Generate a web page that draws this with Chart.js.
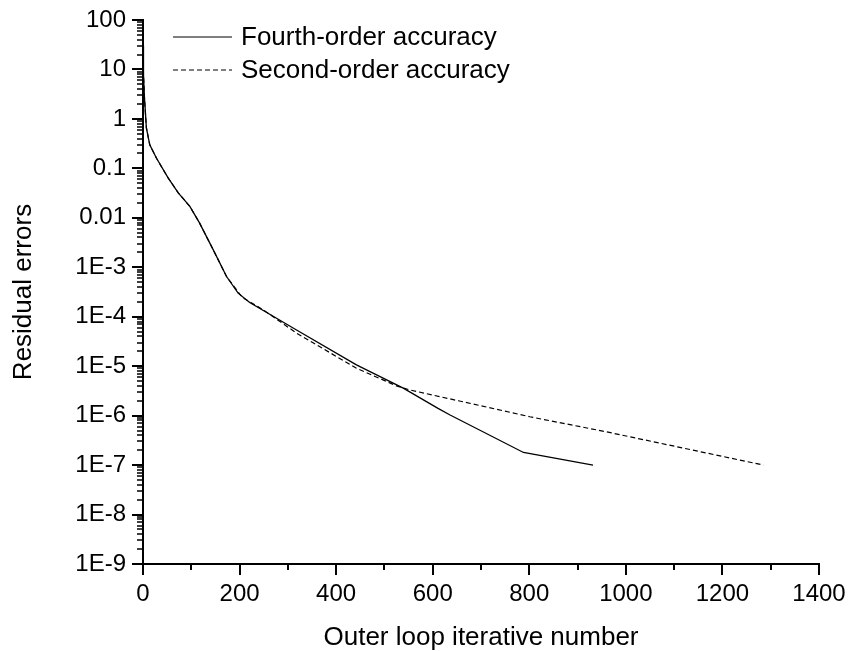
<!DOCTYPE html>
<html>
<head>
<meta charset="utf-8">
<script src="https://cdn.jsdelivr.net/npm/chart.js@4"></script>
<style>
  body { margin: 0; background: #fff; }
  canvas { display: block; }
</style>
</head>
<body>
<canvas id="myChart" width="850" height="651"></canvas>
<script>
// iteration numbers and residuals
const iterFourth = [0, 1, 3, 7, 14, 28, 52, 73, 97, 117, 145, 173, 197, 221, 318, 442, 539, 611, 636, 788, 932];
const resFourth = [30, 8, 2.7, 0.66, 0.3, 0.16, 0.064, 0.032, 0.017, 0.0079, 0.0023, 6.5e-4, 3.0e-4, 1.94e-4,
  5.4e-5, 1.06e-5, 3.6e-6, 1.4e-6, 1.03e-6, 1.8e-7, 1.0e-7];

const iterSecond = [0, 1, 3, 7, 14, 28, 52, 73, 97, 117, 145, 173, 200, 207, 249, 318, 442, 525, 553, 653, 801, 960, 1285];
const resSecond = [30, 8, 2.7, 0.66, 0.3, 0.16, 0.064, 0.032, 0.017, 0.0079, 0.0023, 6.5e-4, 2.9e-4, 2.4e-4,
  1.38e-4, 4.66e-5, 9.1e-6, 4.0e-6, 3.3e-6, 2.0e-6, 9.5e-7, 4.7e-7, 1.0e-7];

const seriesLabels = ['Fourth-order accuracy', 'Second-order accuracy'];

const xTicks = [0, 200, 400, 600, 800, 1000, 1200, 1400];
const yTickValues = [1e-9, 1e-8, 1e-7, 1e-6, 1e-5, 1e-4, 1e-3, 0.01, 0.1, 1, 10, 100];
const yTickLabels = ['1E-9', '1E-8', '1E-7', '1E-6', '1E-5', '1E-4', '1E-3', '0.01', '0.1', '1', '10', '100'];

const FONT = "'Liberation Sans', Arial, sans-serif";

const toPoints = (xs, ys) => xs.map((x, i) => ({ x: x, y: ys[i] }));

// outward tick marks, long for majors and short for minors
const tickMarks = {
  id: 'tickMarks',
  afterDraw(chart) {
    const ctx = chart.ctx;
    const xs = chart.scales.x, ys = chart.scales.y;
    const area = chart.chartArea;
    ctx.save();
    ctx.strokeStyle = '#000';
    ctx.lineWidth = 2;
    ctx.beginPath();
    xTicks.forEach(v => {
      const px = Math.round(xs.getPixelForValue(v));
      ctx.moveTo(px, area.bottom);
      ctx.lineTo(px, area.bottom + 11);
    });
    for (let v = 100; v < 1400; v += 200) {
      const px = Math.round(xs.getPixelForValue(v));
      ctx.moveTo(px, area.bottom);
      ctx.lineTo(px, area.bottom + 6);
    }
    yTickValues.forEach(v => {
      const py = Math.round(ys.getPixelForValue(v));
      ctx.moveTo(area.left, py);
      ctx.lineTo(area.left - 11, py);
    });
    ctx.stroke();
    ctx.lineWidth = 1.5;
    ctx.beginPath();
    for (let k = 0; k < yTickValues.length - 1; k++) {
      for (let m = 2; m <= 9; m++) {
        const py = Math.round(ys.getPixelForValue(yTickValues[k] * m));
        ctx.moveTo(area.left, py);
        ctx.lineTo(area.left - 6, py);
      }
    }
    ctx.stroke();
    ctx.restore();
  }
};

// legend inside the plot, top left
const insideLegend = {
  id: 'insideLegend',
  afterDraw(chart) {
    const ctx = chart.ctx;
    const area = chart.chartArea;
    ctx.save();
    ctx.font = '26px ' + FONT;
    ctx.fillStyle = '#000';
    ctx.textBaseline = 'middle';
    chart.data.datasets.forEach((ds, i) => {
      const y = area.top + 17 + i * 33;
      ctx.strokeStyle = '#000';
      ctx.lineWidth = 1.2;
      ctx.setLineDash(ds.borderDash || []);
      ctx.beginPath();
      ctx.moveTo(area.left + 30, y);
      ctx.lineTo(area.left + 89, y);
      ctx.stroke();
      ctx.setLineDash([]);
      ctx.fillText(ds.label, area.left + 98, y + 1);
    });
    ctx.restore();
  }
};

new Chart(document.getElementById('myChart'), {
  type: 'line',
  data: {
    datasets: [{
      label: seriesLabels[0],
      data: toPoints(iterFourth, resFourth),
      borderColor: '#000',
      borderWidth: 1.3,
      pointRadius: 0,
      tension: 0
    }, {
      label: seriesLabels[1],
      data: toPoints(iterSecond, resSecond),
      borderColor: '#000',
      borderWidth: 1.2,
      borderDash: [5, 3],
      pointRadius: 0,
      tension: 0
    }]
  },
  options: {
    responsive: false,
    animation: false,
    layout: { padding: { top: 20, right: 31, left: 0, bottom: 0 } },
    plugins: {
      legend: { display: false },
      tooltip: { enabled: false }
    },
    scales: {
      x: {
        type: 'linear',
        min: 0,
        max: 1400,
        afterFit: s => { s.height = 87; s.paddingLeft = 0; s.paddingRight = 0; },
        grid: { display: false, drawTicks: false },
        border: { display: true, color: '#000', width: 2 },
        ticks: {
          stepSize: 200,
          color: '#000',
          font: { family: FONT, size: 24 },
          padding: 16,
          maxRotation: 0,
          callback: v => String(v)
        },
        title: {
          display: true,
          text: 'Outer loop iterative number',
          color: '#000',
          font: { family: FONT, size: 26, lineHeight: 1.0 },
          padding: { top: 0, bottom: 0 }
        }
      },
      y: {
        type: 'logarithmic',
        min: 1e-9,
        max: 100,
        afterFit: s => { s.width = 143; s.paddingTop = 0; s.paddingBottom = 0; },
        afterBuildTicks: s => { s.ticks = yTickValues.map(v => ({ value: v })); },
        grid: { display: false, drawTicks: false },
        border: { display: true, color: '#000', width: 2 },
        ticks: {
          color: '#000',
          font: { family: FONT, size: 24 },
          padding: 17,
          autoSkip: false,
          callback: (value, index) => yTickLabels[index]
        },
        title: {
          display: true,
          text: 'Residual errors',
          color: '#000',
          font: { family: FONT, size: 26, lineHeight: 1.2 },
          padding: { top: 8, bottom: 0 }
        }
      }
    }
  },
  plugins: [tickMarks, insideLegend]
});
</script>
</body>
</html>
